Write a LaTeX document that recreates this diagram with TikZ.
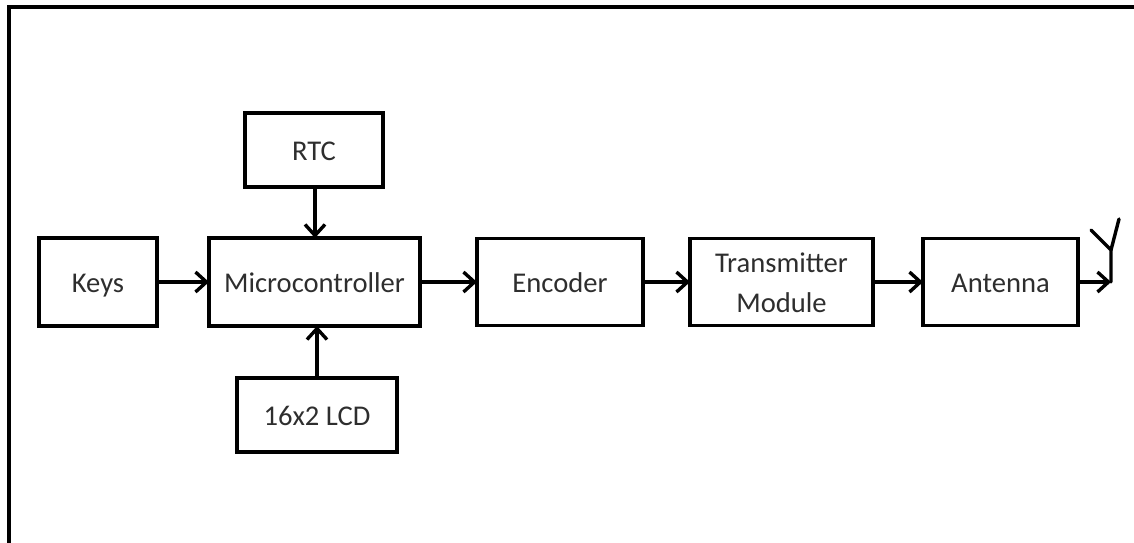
\documentclass[tikz,border=0pt]{standalone}
\usepackage{fontspec}
\setmainfont{Carlito}
\usetikzlibrary{arrows.meta}
\definecolor{txt}{HTML}{2E2E2E}
\begin{document}
\begin{tikzpicture}[x=1pt,y=-1pt,
  lbl/.style={text=txt, font=\fontsize{28.6}{40}\selectfont, align=center, inner sep=0pt},
  blk/.style={lbl, draw=black, line width=3.4pt, rectangle, outer sep=0pt,
    text height=20pt, text depth=0pt},
  conn/.style={line width=3.4pt, -{Straight Barb[length=11pt,width=20pt,line width=3.4pt]}},
  wire/.style={line width=3.4pt, line cap=round}]
\useasboundingbox (0,0) rectangle (1134,542);
% outer frame
\draw[line width=3.2pt] (9,560) -- (9,7) -- (1150,7);
% blocks
\node[blk, minimum width=138pt, minimum height=74pt] (rtc) at (314,150) {RTC};
\node[blk, minimum width=118pt, minimum height=88pt] (keys) at (98,282) {Keys};
\node[blk, minimum width=211pt, minimum height=88pt] (mcu) at (314.5,282) {Microcontroller};
\node[blk, minimum width=160pt, minimum height=74pt] (lcd) at (317,415) {16x2 LCD};
\node[blk, minimum width=166pt, minimum height=87pt] (enc) at (560,282) {Encoder};
\node[blk, minimum width=183pt, minimum height=87pt] (tx) at (781.5,282) {};
\node[lbl] (txlbl) at ([yshift=-1pt]tx.center) {Transmitter\\Module};
\node[blk, minimum width=155pt, minimum height=87pt] (ant) at (1000.5,282) {Antenna};
% antenna symbol
\coordinate (mast) at (1111,282);
\coordinate (fork) at (1111,250);
\coordinate (armL) at (1091,230);
\coordinate (armR) at (1119,219);
% connectors
\draw[conn] (keys.east) -- (mcu.west);
\draw[conn] (rtc.south -| 315,0) -- (mcu.north -| 315,0);
\draw[conn] (lcd.north -| 317,0) -- (mcu.south -| 317,0);
\draw[conn] (mcu.east) -- (enc.west);
\draw[conn] (enc.east) -- (tx.west);
\draw[conn] (tx.east) -- (ant.west);
\draw[conn] (ant.east) -- (mast);
\draw[wire] (mast) -- (fork) -- (armL);
\draw[wire] (fork) -- (armR);
\end{tikzpicture}
\end{document}
